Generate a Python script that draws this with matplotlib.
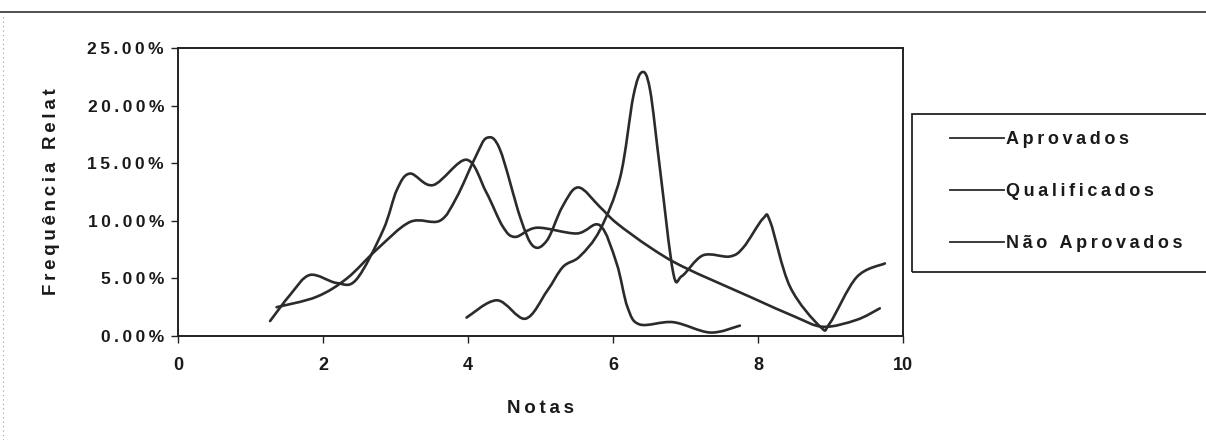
import matplotlib
matplotlib.use("Agg")
import matplotlib.pyplot as plt
from matplotlib.path import Path
from matplotlib.patches import PathPatch, Rectangle
from matplotlib.lines import Line2D
from matplotlib.ticker import FuncFormatter
import numpy as np

# values (nota, frequencia relativa in %)
aprov_x = [3.98, 4.4, 4.79, 5.09, 5.31, 5.54, 5.82, 6.1, 6.28, 6.4, 6.51, 6.65, 6.83, 6.95,
           7.24, 7.61, 7.8, 8.07, 8.17, 8.44, 8.86, 8.99, 9.36, 9.75]
aprov_y = [1.6, 3.1, 1.5, 3.9, 6.0, 6.9, 9.2, 13.8, 20.8, 22.9, 21.4, 14.4, 5.5, 5.2,
           7.0, 6.9, 7.7, 10.2, 9.9, 4.3, 0.8, 1.1, 5.1, 6.3]

qualif_x = [1.36, 1.91, 2.33, 2.74, 3.2, 3.61, 3.84, 4.1, 4.26, 4.44, 4.72, 4.9, 5.09, 5.3,
            5.52, 5.82, 6.05, 6.51, 6.97, 7.89, 8.5, 8.9, 9.36, 9.68]
qualif_y = [2.5, 3.4, 5.0, 7.5, 9.9, 10.0, 12.0, 15.5, 17.2, 16.2, 10.3, 7.8, 8.3, 11.2,
            12.9, 11.2, 9.8, 7.7, 6.0, 3.4, 1.7, 0.8, 1.4, 2.4]

naprov_x = [1.27, 1.55, 1.82, 2.19, 2.46, 2.83, 3.02, 3.2, 3.52, 3.98, 4.25, 4.48, 4.65,
            4.95, 5.5, 5.82, 6.05, 6.2, 6.37, 6.83, 7.34, 7.75]
naprov_y = [1.3, 3.6, 5.3, 4.6, 4.9, 9.2, 12.7, 14.1, 13.1, 15.3, 12.5, 9.5, 8.6,
            9.4, 8.9, 9.6, 6.3, 2.5, 1.0, 1.2, 0.3, 0.9]

labels = ["Aprovados", "Qualificados", "Não Aprovados"]
x_ticks = [0, 2, 4, 6, 8, 10]
y_ticks = [0, 5, 10, 15, 20, 25]

FONT = ["Liberation Sans", "DejaVu Sans"]
plt.rcParams["font.family"] = FONT
plt.rcParams["font.weight"] = "bold"
LINE = "#2b2b2b"
W, H = 1206, 440


def spaced(s, sep="\u2009"):
    # the scan has wide letter spacing
    return sep.join(s)


def smooth_path(xs, ys):
    # excel-like smoothed line: catmull-rom segments as cubic beziers
    p = np.column_stack([xs, ys]).astype(float)
    n = len(p)
    verts = [p[0]]
    codes = [Path.MOVETO]
    for i in range(n - 1):
        p0 = p[i - 1] if i > 0 else p[i]
        p1, p2 = p[i], p[i + 1]
        p3 = p[i + 2] if i + 2 < n else p[i + 1]
        verts += [p1 + (p2 - p0) / 6, p2 - (p3 - p1) / 6, p2]
        codes += [Path.CURVE4] * 3
    return Path(verts, codes)


fig = plt.figure(figsize=(W / 100, H / 100), dpi=100)
ax = fig.add_axes([178 / W, 1 - 336 / H, 725 / W, 288 / H])

for xs, ys in [(aprov_x, aprov_y), (qualif_x, qualif_y), (naprov_x, naprov_y)]:
    ax.add_patch(PathPatch(smooth_path(xs, ys), fill=False, edgecolor=LINE,
                           linewidth=1.9, capstyle="round", joinstyle="round"))

ax.set_xlim(0, 10)
ax.set_ylim(0, 25)
ax.set_xticks(x_ticks)
ax.set_yticks(y_ticks)
ax.xaxis.set_major_formatter(FuncFormatter(lambda v, p: f"{v:g}"))
ax.yaxis.set_major_formatter(FuncFormatter(lambda v, p: spaced(f"{v:.2f}%")))
ax.tick_params(axis="both", direction="out", length=5, width=1, color="#222222",
               labelcolor="#1a1a1a")
ax.tick_params(axis="y", labelsize=12.5, pad=5)
ax.tick_params(axis="x", labelsize=13, pad=10)
for s in ax.spines.values():
    s.set_linewidth(1.4)
    s.set_color("#222222")

ax.set_xlabel(spaced("Notas"), fontsize=13.5, fontweight="bold", labelpad=19,
              color="#1a1a1a")
ax.set_ylabel(spaced("Frequência Relat"), fontsize=13.5, fontweight="bold", labelpad=20,
              color="#1a1a1a")

# legend box runs off the right edge of the scan
fig.add_artist(Rectangle((912 / W, 1 - 272 / H), 320 / W, 158 / H, transform=fig.transFigure,
                         fill=False, edgecolor="#222222", linewidth=1.3, clip_on=False))
handles = [Line2D([], [], color=LINE, linewidth=1.3) for _ in labels]
leg = fig.legend(handles, [spaced(l) for l in labels], loc="upper left",
                 bbox_to_anchor=(950 / W, 1 - 131 / H), frameon=False,
                 fontsize=13, handlelength=3.0, handletextpad=0.1,
                 labelspacing=1.95, borderpad=0, borderaxespad=0)
for t in leg.get_texts():
    t.set_color("#1a1a1a")

# scan edges: rule under the cut-off title and dotted margin on the left
fig.add_artist(Line2D([0, 1], [1 - 12 / H, 1 - 12 / H], color="#333333", linewidth=1.2))
fig.add_artist(Line2D([3 / W, 3 / W], [0, 1 - 14 / H], color="#999999",
                      linewidth=0.8, linestyle=(0, (1, 3))))

fig.savefig("out.png", dpi=100, facecolor="white")
